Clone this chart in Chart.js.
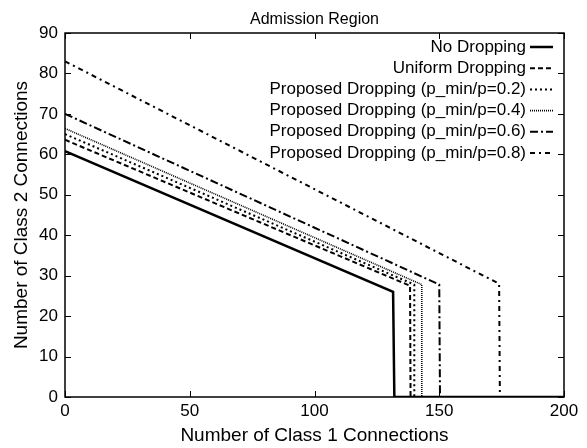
<!DOCTYPE html>
<html>
<head>
<meta charset="utf-8">
<script src="https://cdn.jsdelivr.net/npm/chart.js@4"></script>
<style>
  html, body { margin: 0; padding: 0; background: #fff; }
  #wrap { width: 587px; height: 448px; }
</style>
</head>
<body>
<div id="wrap"><canvas id="chart" width="587" height="448"></canvas></div>
<script>
// Series labels
const labels = [
  "No Dropping",
  "Uniform Dropping",
  "Proposed Dropping (p_min/p=0.2)",
  "Proposed Dropping (p_min/p=0.4)",
  "Proposed Dropping (p_min/p=0.6)",
  "Proposed Dropping (p_min/p=0.8)"
];

// Boundary points of each admission region (class 1 count, class 2 count)
const noDropX = [0, 131.5, 132, 200];
const noDropY = [60.8, 26, 0, 0];
const uniformX = [0, 138.3, 138.5, 200];
const uniformY = [63.6, 27.5, 0, 0];
const p02X = [0, 140, 140, 200];
const p02Y = [65, 27.8, 0, 0];
const p04X = [0, 143, 143, 200];
const p04Y = [66.4, 27.8, 0, 0];
const p06X = [0, 150, 150.3, 200];
const p06Y = [70, 27.8, 0, 0];
const p08X = [0, 174, 174.3, 200];
const p08Y = [83, 28, 0, 0];

const xTicks = [0, 50, 100, 150, 200];
const yTicks = [0, 10, 20, 30, 40, 50, 60, 70, 80, 90];

const FONT = "'Liberation Sans', Arial, sans-serif";

function pts(xs, ys) {
  return xs.map((x, i) => ({ x: x, y: ys[i] }));
}

const styles = [
  { dash: [], width: 2.5 },
  { dash: [5, 3], width: 2 },
  { dash: [2, 3], width: 2 },
  { dash: [1, 1], width: 1.6 },
  { dash: [8, 3, 2, 3], width: 2 },
  { dash: [5, 4, 2, 4], width: 2 }
];

const series = [
  pts(noDropX, noDropY),
  pts(uniformX, uniformY),
  pts(p02X, p02Y),
  pts(p04X, p04Y),
  pts(p06X, p06Y),
  pts(p08X, p08Y)
];

const datasets = series.map((d, i) => ({
  label: labels[i],
  data: d,
  showLine: true,
  borderColor: "#000",
  borderWidth: styles[i].width,
  borderDash: styles[i].dash,
  pointRadius: 0,
  fill: false,
  tension: 0
}));

// frame, inward ticks, title and legend like gnuplot
const decor = {
  id: "decor",
  afterDraw(chart) {
    const ctx = chart.ctx;
    const a = chart.chartArea;
    const xs = chart.scales.x, ys = chart.scales.y;
    ctx.save();
    ctx.strokeStyle = "#000";
    ctx.lineWidth = 1.5;
    ctx.setLineDash([]);
    ctx.strokeRect(a.left, a.top, a.right - a.left, a.bottom - a.top);
    ctx.lineWidth = 1;
    ctx.beginPath();
    xTicks.forEach(v => {
      const px = Math.round(xs.getPixelForValue(v)) + 0.5;
      ctx.moveTo(px, a.bottom); ctx.lineTo(px, a.bottom - 6);
      ctx.moveTo(px, a.top); ctx.lineTo(px, a.top + 6);
    });
    yTicks.forEach(v => {
      const py = Math.round(ys.getPixelForValue(v)) + 0.5;
      ctx.moveTo(a.left, py); ctx.lineTo(a.left + 6, py);
      ctx.moveTo(a.right, py); ctx.lineTo(a.right - 6, py);
    });
    ctx.stroke();

    // title
    ctx.fillStyle = "#000";
    ctx.font = "16px " + FONT;
    ctx.textAlign = "center";
    ctx.textBaseline = "alphabetic";
    ctx.fillText("Admission Region", (a.left + a.right) / 2, 24);

    // legend
    ctx.font = "17px " + FONT;
    ctx.textAlign = "right";
    ctx.textBaseline = "middle";
    labels.forEach((lab, i) => {
      const y = 47 + i * 21.2;
      ctx.fillText(lab, 526, y);
      ctx.lineWidth = styles[i].width;
      ctx.setLineDash(styles[i].dash);
      ctx.beginPath();
      ctx.moveTo(530, y);
      ctx.lineTo(553, y);
      ctx.stroke();
    });
    ctx.restore();
  }
};

new Chart(document.getElementById("chart"), {
  type: "scatter",
  data: { datasets: datasets },
  options: {
    responsive: false,
    animation: false,
    layout: { padding: { top: 33, right: 23, left: 0, bottom: 0 } },
    plugins: {
      legend: { display: false },
      tooltip: { enabled: false },
      title: { display: false }
    },
    scales: {
      x: {
        type: "linear",
        min: 0,
        max: 200,
        afterFit(s) { s.height = 51; },
        afterBuildTicks(s) { s.ticks = xTicks.map(v => ({ value: v })); },
        grid: { display: false, drawTicks: false },
        border: { display: false },
        ticks: { color: "#000", font: { family: FONT, size: 17 }, padding: 4, maxRotation: 0 },
        title: {
          display: true,
          text: "Number of Class 1 Connections",
          color: "#000",
          font: { family: FONT, size: 19 },
          padding: { top: 0, bottom: 1 }
        }
      },
      y: {
        type: "linear",
        min: 0,
        max: 90,
        afterFit(s) { s.width = 65; },
        afterBuildTicks(s) { s.ticks = yTicks.map(v => ({ value: v })); },
        grid: { display: false, drawTicks: false },
        border: { display: false },
        ticks: { color: "#000", font: { family: FONT, size: 17 }, padding: 7 },
        title: {
          display: true,
          text: "Number of Class 2 Connections",
          color: "#000",
          font: { family: FONT, size: 19 },
          padding: { top: 10, bottom: 0 }
        }
      }
    }
  },
  plugins: [decor]
});
</script>
</body>
</html>
